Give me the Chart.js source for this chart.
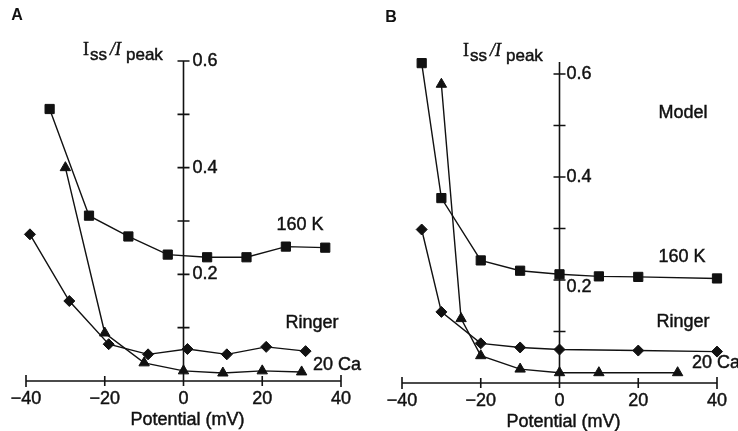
<!DOCTYPE html>
<html>
<head>
<meta charset="utf-8">
<script src="https://cdn.jsdelivr.net/npm/chart.js@4"></script>
<style>
  body { margin: 0; background: #fff; width: 738px; height: 431px; overflow: hidden; position: relative; }
  canvas { position: absolute; top: 0; }
  #panelA { left: 0; }
  #panelB { left: 369px; }
</style>
</head>
<body>
<canvas id="panelA" width="369" height="431"></canvas>
<canvas id="panelB" width="369" height="431"></canvas>
<script>
// Panel A: measured Iss/Ipeak against potential (mV)
var k160A_x = [-34, -24, -14, -4, 6, 16, 26, 36];
var k160A_y = [0.51, 0.31, 0.271, 0.237, 0.232, 0.232, 0.252, 0.25];
var ringerA_x = [-39, -29, -19, -9, 1, 11, 21, 31];
var ringerA_y = [0.275, 0.15, 0.069, 0.05, 0.06, 0.05, 0.064, 0.056];
var ca20A_x = [-30, -20, -10, 0, 10, 20, 30];
var ca20A_y = [0.40, 0.09, 0.034, 0.019, 0.015, 0.019, 0.017];

// Panel B: model
var k160B_x = [-35, -30, -20, -10, 0, 10, 20, 40];
var k160B_y = [0.621, 0.359, 0.238, 0.218, 0.211, 0.207, 0.206, 0.203];
var ringerB_x = [-35, -30, -20, -10, 0, 20, 40];
var ringerB_y = [0.298, 0.138, 0.077, 0.069, 0.065, 0.063, 0.061];
var ca20B_x = [-30, -25, -20, -10, 0, 10, 30];
var ca20B_y = [0.58, 0.125, 0.053, 0.027, 0.02, 0.02, 0.02];

// axis ticks
var xTicks = [-40, -20, 0, 20, 40];
var yTicks = [0.1, 0.2, 0.3, 0.4, 0.5, 0.6];
var yLabels = [0.2, 0.4, 0.6];

var SANS = '"Liberation Sans", Arial, sans-serif';
var SERIF = '"Liberation Serif", "Times New Roman", serif';
var INK = '#111';

function pts(xs, ys) {
  return xs.map(function (x, i) { return { x: x, y: ys[i] }; });
}

function series(xs, ys, style, r) {
  return {
    data: pts(xs, ys),
    showLine: true,
    borderColor: INK,
    backgroundColor: INK,
    borderWidth: 1.4,
    pointStyle: style,
    pointRadius: r,
    pointBorderWidth: 1,
    clip: false
  };
}

function minusLabel(v) {
  return v < 0 ? '\u2212' + Math.abs(v) : String(v);
}

// text with a thin outline, the scan prints a bit heavy
function heavyText(ctx, s, x, y) {
  ctx.fillText(s, x, y);
  ctx.strokeText(s, x, y);
}

function drawRatio(ctx, x, base) {
  // I_ss / I_peak
  ctx.textAlign = 'left';
  ctx.textBaseline = 'alphabetic';
  ctx.font = '18px ' + SERIF;
  heavyText(ctx, 'I', x, base);
  x += ctx.measureText('I').width + 1;
  ctx.font = '17px ' + SANS;
  heavyText(ctx, 'ss', x, base + 5);
  x += ctx.measureText('ss').width + 3;
  ctx.font = 'italic 18px ' + SERIF;
  heavyText(ctx, '/I', x, base);
  x += ctx.measureText('/I').width + 5;
  ctx.font = '17px ' + SANS;
  heavyText(ctx, 'peak', x, base + 5);
}

var axesPlugin = {
  id: 'crossAxes',
  beforeDatasetsDraw: function (chart, args, opts) {
    var ctx = chart.ctx, sx = chart.scales.x, sy = chart.scales.y;
    var x0 = sx.getPixelForValue(0), y0 = sy.getPixelForValue(0);
    ctx.save();
    ctx.strokeStyle = INK;
    ctx.lineWidth = 1.6;
    // x axis
    ctx.beginPath();
    ctx.moveTo(sx.getPixelForValue(-40), y0);
    ctx.lineTo(sx.getPixelForValue(40), y0);
    xTicks.forEach(function (t) {
      var px = sx.getPixelForValue(t);
      var h = (t === -40 || t === 40) ? 6 : 5;
      ctx.moveTo(px, y0 - h);
      ctx.lineTo(px, y0 + h);
    });
    // y axis
    ctx.moveTo(x0, y0);
    ctx.lineTo(x0, sy.getPixelForValue(opts.yTop));
    yTicks.forEach(function (t) {
      var py = sy.getPixelForValue(t);
      ctx.moveTo(x0 - 6, py);
      ctx.lineTo(x0 + 6, py);
    });
    ctx.stroke();
    ctx.restore();
  },
  afterDraw: function (chart, args, opts) {
    var ctx = chart.ctx, sx = chart.scales.x, sy = chart.scales.y;
    var x0 = sx.getPixelForValue(0), y0 = sy.getPixelForValue(0);
    ctx.save();
    ctx.fillStyle = INK;
    ctx.strokeStyle = INK;
    ctx.lineWidth = 0.45;
    ctx.font = '18px ' + SANS;
    ctx.textAlign = 'center';
    ctx.textBaseline = 'middle';
    xTicks.forEach(function (t) {
      heavyText(ctx, minusLabel(t), sx.getPixelForValue(t), y0 + 18);
    });
    heavyText(ctx, 'Potential (mV)', x0 + 4, y0 + 39);
    ctx.textAlign = 'left';
    yLabels.forEach(function (t) {
      var dy = (opts.yLabelShift && opts.yLabelShift[t]) || 0;
      heavyText(ctx, t.toFixed(1), x0 + opts.yLabelGap, sy.getPixelForValue(t) + dy);
    });
    // panel letter
    ctx.font = 'bold 16px ' + SANS;
    ctx.textAlign = 'center';
    ctx.fillText(opts.letter, opts.letterX, opts.letterY);
    // curve names
    ctx.font = '18px ' + SANS;
    opts.notes.forEach(function (n) {
      ctx.textAlign = n[3];
      heavyText(ctx, n[0], n[1], n[2]);
    });
    drawRatio(ctx, opts.ratioX, opts.ratioBase);
    ctx.restore();
  }
};

function makeChart(id, sets, yMax, pad, opts) {
  return new Chart(document.getElementById(id), {
    type: 'scatter',
    data: { datasets: sets },
    options: {
      responsive: false,
      animation: false,
      layout: { padding: pad },
      scales: {
        x: { type: 'linear', min: -40, max: 40, display: false },
        y: { type: 'linear', min: 0, max: yMax, display: false }
      },
      plugins: {
        legend: { display: false },
        tooltip: { enabled: false },
        crossAxes: opts
      }
    },
    plugins: [axesPlugin]
  });
}

var chartA = makeChart('panelA', [
  series(k160A_x, k160A_y, 'rect', 6.5),
  series(ringerA_x, ringerA_y, 'rectRot', 5.5),
  series(ca20A_x, ca20A_y, 'triangle', 6)
], 0.6, { left: 26, right: 28, top: 61, bottom: 50 }, {
  yTop: 0.6,
  yLabelGap: 9,
  letter: 'A', letterX: 17, letterY: 16,
  ratioX: 83, ratioBase: 55,
  notes: [
    ['160 K', 300, 225, 'center'],
    ['Ringer', 312, 323, 'center'],
    ['20 Ca', 313, 365, 'left']
  ]
});

var chartB = makeChart('panelB', [
  series(k160B_x, k160B_y, 'rect', 6.5),
  series(ringerB_x, ringerB_y, 'rectRot', 5.5),
  series(ca20B_x, ca20B_y, 'triangle', 6)
], 0.63, { left: 33, right: 21, top: 58.5, bottom: 48 }, {
  yTop: 0.623,
  yLabelGap: 7,
  yLabelShift: { 0.2: 7 },
  letter: 'B', letterX: 22, letterY: 18,
  ratioX: 94, ratioBase: 56,
  notes: [
    ['Model', 314, 113, 'center'],
    ['160 K', 313, 257, 'center'],
    ['Ringer', 314, 322, 'center'],
    ['20 Ca', 323, 363, 'left']
  ]
});
</script>
</body>
</html>
